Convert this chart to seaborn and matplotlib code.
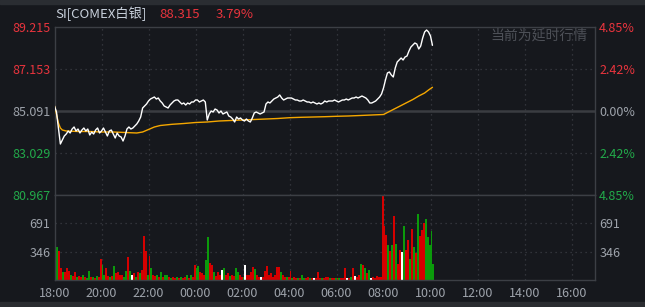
import matplotlib
matplotlib.use("Agg")
import matplotlib.pyplot as plt
import seaborn as sns
import numpy as np
import pandas as pd

# ---------------- data ----------------
title_name = "SI[COMEX白银]"
last_price = "88.315"
last_pct = "3.79%"
prev_close = 85.091
price_ticks = [89.215, 87.153, 85.091, 83.029, 80.967]
pct_labels = ["4.85%", "2.42%", "0.00%", "2.42%", "4.85%"]
vol_ticks = [346, 691]
time_labels = ["18:00", "20:00", "22:00", "00:00", "02:00", "04:00", "06:00",
               "08:00", "10:00", "12:00", "14:00", "16:00"]

# price every 5 minutes from 18:00
price = [85.337, 85.042, 84.256, 83.471, 83.667, 83.864, 83.962, 84.109, 84.011, 84.207,
         84.306, 84.109, 84.207, 84.011, 84.158, 84.256, 84.109, 84.207, 83.913, 84.060,
         83.962, 84.158, 84.256, 84.011, 84.109, 84.256, 84.060, 83.864, 84.109, 84.158,
         83.962, 83.766, 84.011, 83.864, 83.815, 83.618, 83.864, 84.207, 84.306, 84.207,
         84.256, 84.355, 84.453, 84.600, 84.796, 85.238, 85.337, 85.435, 85.582, 85.680,
         85.729, 85.778, 85.680, 85.729, 85.582, 85.484, 85.337, 85.287, 85.238, 85.386,
         85.484, 85.582, 85.631, 85.631, 85.533, 85.435, 85.484, 85.386, 85.484, 85.435,
         85.533, 85.533, 85.631, 85.631, 85.533, 85.582, 85.631, 85.533, 84.649, 84.944,
         85.091, 85.042, 85.189, 85.140, 84.993, 85.091, 84.944, 84.993, 85.042, 84.846,
         84.796, 84.698, 84.551, 84.796, 84.698, 84.747, 84.649, 84.600, 84.698, 84.600,
         84.551, 84.747, 84.993, 85.042, 84.993, 84.944, 84.993, 85.042, 85.435, 85.533,
         85.484, 85.582, 85.680, 85.729, 85.778, 85.877, 85.729, 85.631, 85.680, 85.729,
         85.729, 85.729, 85.680, 85.631, 85.631, 85.582, 85.582, 85.631, 85.582, 85.533,
         85.533, 85.484, 85.533, 85.484, 85.435, 85.484, 85.435, 85.484, 85.582, 85.533,
         85.582, 85.582, 85.582, 85.631, 85.582, 85.533, 85.582, 85.631, 85.631, 85.680,
         85.631, 85.680, 85.729, 85.729, 85.778, 85.729, 85.778, 85.827, 85.778, 85.729,
         85.631, 85.484, 85.484, 85.533, 85.582, 85.680, 85.778, 85.926, 86.220, 86.613,
         86.957, 87.006, 86.858, 86.760, 87.202, 87.497, 87.595, 87.693, 87.595, 87.742,
         87.791, 88.037, 88.233, 88.331, 88.430, 88.380, 88.135, 88.282, 88.675, 88.970,
         89.068, 88.970, 88.773, 88.315]

# average price line (minutes since 18:00, value)
avg_minutes = [0, 5, 10, 15, 20, 30, 60, 90, 120, 150, 180, 210, 225, 240, 255, 270, 300,
               330, 360, 390, 420, 450, 480, 510, 540, 570, 600, 630, 660, 690, 720, 750,
               780, 810, 840, 855, 870, 885, 900, 915, 930, 945, 955, 965]
avg_price = [85.337, 84.944, 84.502, 84.256, 84.158, 84.109, 84.085, 84.085, 84.060, 84.060,
             84.036, 84.011, 84.060, 84.183, 84.306, 84.379, 84.438, 84.477, 84.526, 84.551,
             84.600, 84.625, 84.649, 84.674, 84.698, 84.723, 84.762, 84.782, 84.796, 84.811,
             84.831, 84.846, 84.870, 84.895, 84.919, 85.067, 85.214, 85.361, 85.509, 85.656,
             85.827, 85.975, 86.122, 86.255]

# volume per 5 minutes and bar colour class (r = up, g = down, w = flat)
volume = [144, 402, 350, 150, 100, 100, 150, 110, 60, 50,
          100, 40, 50, 40, 60, 40, 30, 110, 40, 40,
          30, 50, 40, 260, 185, 60, 150, 50, 40, 50,
          172, 80, 100, 60, 60, 40, 110, 275, 110, 60,
          85, 40, 100, 85, 120, 541, 350, 60, 287, 150,
          60, 50, 60, 40, 100, 40, 60, 60, 40, 30,
          40, 30, 40, 30, 40, 30, 40, 60, 30, 60,
          40, 177, 150, 172, 100, 80, 60, 246, 525, 205,
          185, 100, 50, 100, 60, 120, 150, 60, 80, 50,
          60, 50, 150, 100, 60, 40, 40, 185, 60, 60,
          100, 160, 135, 60, 40, 40, 40, 110, 172, 60,
          85, 40, 60, 160, 160, 100, 60, 40, 40, 40,
          110, 30, 40, 30, 30, 30, 60, 30, 30, 40,
          30, 30, 25, 30, 100, 30, 25, 30, 35, 40,
          25, 25, 30, 30, 25, 25, 30, 30, 150, 25,
          30, 40, 150, 50, 40, 60, 193, 185, 150, 80,
          120, 30, 40, 30, 50, 40, 40, 1030, 655, 553,
          430, 348, 430, 778, 443, 200, 360, 336, 664, 370,
          492, 250, 627, 400, 330, 800, 541, 615, 700, 738,
          530, 430, 594, 200]
vol_dir = list("ggrrgrrrgr" "rgrrgrggrg" "rgrrggrrgr" "grrrrggrgw"
               "rgrgrrrgrg" "rrgrgrggrg" "rrgrgrrgrg" "rrggrrrggr"
               "rgrrrwgrrg" "rrggrrgwrr" "rrgrrwrrrr" "rrrrrgrrgr"
               "rgrrgrggrr" "grwrrrgrrr" "grrgrgrrrw" "rgrwrrgrgr"
               "gwrrrrrrrr" "grgrgrrwgr" "rgrgrgrrrg" "gggg")

# ---------------- style ----------------
BG = "#16181d"
GRID = "#3a3d44"
BORDER = "#3c3f45"
RED = "#e8343d"
GREEN = "#22a94a"
GREY = "#9ea3ab"
VOL_COL = {"r": "#d50000", "g": "#0b9a0b", "w": "#ffffff"}

sns.set_theme(style="dark")
plt.rcParams["font.family"] = ["Noto Sans CJK SC", "DejaVu Sans"]
plt.rcParams["axes.unicode_minus"] = False

W, H = 645, 307
fig = plt.figure(figsize=(W / 100, H / 100), dpi=100, facecolor=BG)

L, R = 54.5, 595
def fx(px):
    return px / W
def fy(py):
    return 1 - py / H

ax_p = fig.add_axes([fx(L), fy(195), fx(R) - fx(L), fy(27) - fy(195)])
ax_v = fig.add_axes([fx(L), fy(280), fx(R) - fx(L), fy(195) - fy(280)])

minutes = [5 * i for i in range(len(price))]
dfp = pd.DataFrame({"t": minutes, "price": price})
dfa = pd.DataFrame({"t": avg_minutes, "avg": avg_price})

XMAX = 1380
for ax in (ax_p, ax_v):
    ax.set_facecolor(BG)
    ax.set_xlim(0, XMAX)
    for s in ax.spines.values():
        s.set_color(BORDER)
        s.set_linewidth(1.0)
    ax.grid(False)
    for m in range(120, XMAX, 120):
        ax.axvline(m, color=GRID, lw=0.9, ls=(0, (1, 3)), zorder=0)

# price panel
ax_p.set_ylim(price_ticks[-1], price_ticks[0])
for v in (price_ticks[1], price_ticks[3]):
    ax_p.axhline(v, color=GRID, lw=0.9, ls=(0, (1, 3)), zorder=0)
ax_p.axhline(prev_close, color="#3a3c41", lw=1.8, zorder=1)
sns.lineplot(data=dfa, x="t", y="avg", ax=ax_p, color="#f5a700", lw=1.0, zorder=3)
sns.lineplot(data=dfp, x="t", y="price", ax=ax_p, color="#ffffff", lw=1.0, zorder=4)
ax_p.set_xlabel("")
ax_p.set_ylabel("")
ax_p.set_xticks([])
ax_p.set_yticks(price_ticks)
ax_p.set_yticklabels([f"{v:.3f}" for v in price_ticks])
tick_cols = [RED, RED, GREY, GREEN, GREEN]
for lab, c in zip(ax_p.get_yticklabels(), tick_cols):
    lab.set_color(c)
ax_p.tick_params(axis="y", length=0, pad=3, labelsize=9)

ax_p2 = ax_p.twinx()
ax_p2.set_ylim(price_ticks[-1], price_ticks[0])
ax_p2.set_yticks(price_ticks)
ax_p2.set_yticklabels(pct_labels)
for lab, c in zip(ax_p2.get_yticklabels(), tick_cols):
    lab.set_color(c)
ax_p2.tick_params(axis="y", length=0, pad=3, labelsize=9)
ax_p2.grid(False)
for s in ax_p2.spines.values():
    s.set_visible(False)

# volume panel
ax_v.set_ylim(0, 1036.5)
for v in vol_ticks:
    ax_v.axhline(v, color=GRID, lw=0.9, ls=(0, (1, 3)), zorder=0)
bars = ax_v.bar(minutes, volume, width=5, align="edge",
                color=[VOL_COL[c] for c in vol_dir], linewidth=0, zorder=2)
for b in bars:
    b.set_antialiased(False)
ax_v.set_yticks(vol_ticks)
ax_v.set_yticklabels([str(v) for v in vol_ticks])
ax_v.tick_params(axis="y", length=0, pad=3, labelsize=9, labelcolor=GREY)
ax_v.set_xticks(list(range(0, 1321, 120)))
ax_v.set_xticklabels(time_labels)
ax_v.tick_params(axis="x", length=0, pad=5, labelsize=9, labelcolor=GREY)
ax_v2 = ax_v.twinx()
ax_v2.set_ylim(0, 1036.5)
ax_v2.set_yticks(vol_ticks)
ax_v2.set_yticklabels([str(v) for v in vol_ticks])
ax_v2.tick_params(axis="y", length=0, pad=3, labelsize=9, labelcolor=GREY)
ax_v2.grid(False)
for s in ax_v2.spines.values():
    s.set_visible(False)

# header texts
fig.text(fx(55), fy(14), title_name, color="#c9d1dc", fontsize=9.5, va="center", ha="left")
fig.text(fx(159), fy(14), last_price, color=RED, fontsize=9.5, va="center", ha="left")
fig.text(fx(216), fy(14), last_pct, color=RED, fontsize=9.5, va="center", ha="left")
fig.text(fx(588), fy(36), "当前为延时行情", color="#4d5057", fontsize=10, va="center", ha="right")

# top and bottom strips
fig.patches.append(plt.Rectangle((0, fy(4)), 1, 1 - fy(4), transform=fig.transFigure,
                                 color="#2a2d32", zorder=0))
fig.patches.append(plt.Rectangle((0, 0), 1, fy(302), transform=fig.transFigure,
                                 color="#2a2c30", zorder=0))

fig.savefig("out.png", dpi=100, facecolor=BG)
